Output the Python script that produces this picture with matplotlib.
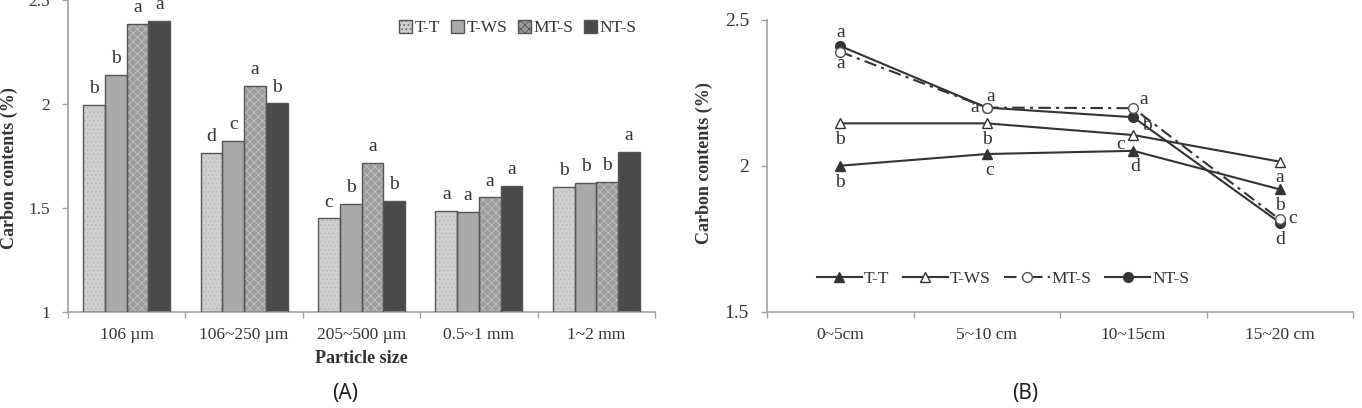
import matplotlib
matplotlib.use("Agg")
import matplotlib.pyplot as plt
from matplotlib.patches import Patch
import numpy as np

plt.rcParams['hatch.linewidth'] = 0.6

# ---------------- data ----------------
sizes = ["106 \u00b5m", "106~250 \u00b5m", "205~500 \u00b5m", "0.5~1 mm", "1~2 mm"]
treatments = ["T-T", "T-WS", "MT-S", "NT-S"]
a_TT = [1.995, 1.763, 1.45, 1.487, 1.60]
a_TWS = [2.14, 1.822, 1.52, 1.482, 1.622]
a_MTS = [2.385, 2.087, 1.715, 1.551, 1.625]
a_NTS = [2.40, 2.003, 1.535, 1.606, 1.77]
a_letters_TT = ["b", "d", "c", "a", "b"]
a_letters_TWS = ["b", "c", "b", "a", "b"]
a_letters_MTS = ["a", "a", "a", "a", "b"]
a_letters_NTS = ["a", "b", "b", "a", "a"]

depths = ["0~5cm", "5~10 cm", "10~15cm", "15~20 cm"]
b_TT = [2.001, 2.041, 2.052, 1.92]
b_TWS = [2.146, 2.146, 2.106, 2.015]
b_MTS = [2.391, 2.20, 2.198, 1.817]
b_NTS = [2.411, 2.20, 2.167, 1.806]
b_letters_TT = ["b", "c", "d", "b"]
b_letters_TWS = ["b", "b", "c", "a"]
b_letters_MTS = ["a", "a", "a", "c"]
b_letters_NTS = ["a", "a", "b", "d"]

# ---------------- figure ----------------
W, H = 1362, 408
fig = plt.figure(figsize=(W / 100, H / 100), dpi=100)
serif = "Liberation Serif"
txt = "#333333"
axc = "#a0a0a0"

def px_axes(x0, y0, x1, y1):
    return fig.add_axes([x0 / W, 1 - y1 / H, (x1 - x0) / W, (y1 - y0) / H])

def style_axes(ax):
    for s in ["top", "right"]:
        ax.spines[s].set_visible(False)
    for s in ["left", "bottom"]:
        ax.spines[s].set_color(axc)
        ax.spines[s].set_linewidth(1.2)
    ax.tick_params(axis="both", which="major", color=axc, length=4, width=1.0,
                   labelcolor=txt, labelsize=12.5)
    ax.tick_params(axis="y", pad=9)
    ax.tick_params(axis="x", which="major", labelbottom=False)
    ax.tick_params(axis="x", which="minor", length=0, pad=11, labelcolor=txt)
    for lab in ax.get_yticklabels():
        lab.set_fontfamily(serif)

# ---------------- panel A ----------------
axA = px_axes(68, 0, 655, 312)
n = len(sizes)
x = np.arange(n)
bw = 0.185
offs = np.array([-1.5, -0.5, 0.5, 1.5]) * bw
vals = [a_TT, a_TWS, a_MTS, a_NTS]
letters = [a_letters_TT, a_letters_TWS, a_letters_MTS, a_letters_NTS]
fills = ["#cfcfcf", "#aaaaaa", "#9c9c9c", "#4a4a4a"]
hatches = ["....", None, "xxxx", None]
hcols = ["#b8b8b8", None, "#c4c4c4", None]
for k in range(4):
    if hatches[k]:
        axA.bar(x + offs[k], np.array(vals[k]) - 1, bw, bottom=1, color=fills[k],
                edgecolor=hcols[k], linewidth=0, hatch=hatches[k], zorder=2)
    else:
        axA.bar(x + offs[k], np.array(vals[k]) - 1, bw, bottom=1, color=fills[k],
                linewidth=0, zorder=2)
    axA.bar(x + offs[k], np.array(vals[k]) - 1, bw, bottom=1, fill=False,
            edgecolor="#555555", linewidth=1.0, zorder=3)
    for i in range(n):
        axA.annotate(letters[k][i], (x[i] + offs[k], vals[k][i]),
                     xytext=(0, 8.5), textcoords="offset points", ha="center",
                     va="baseline", fontfamily=serif, fontsize=14, color=txt,
                     annotation_clip=False)
axA.set_xlim(-0.5, n - 0.5)
axA.set_ylim(1, 2.5)
axA.set_yticks([1, 1.5, 2, 2.5])
axA.set_yticklabels(["1", "1.5", "2", "2.5"])
axA.set_xticks(np.arange(n + 1) - 0.5)
axA.set_xticks(x, minor=True)
axA.set_xticklabels(sizes, minor=True, fontfamily=serif, fontsize=12.5)
style_axes(axA)
axA.set_ylabel("Carbon contents (%)", fontfamily=serif, fontweight="bold",
               fontsize=13, color=txt)
axA.yaxis.set_label_coords((18 - 68) / 587, (312 - 168) / 312)
axA.set_xlabel("Particle size", fontfamily=serif, fontweight="bold",
               fontsize=13, color=txt, labelpad=5)
handlesA = [Patch(facecolor=fills[k], edgecolor="#555555", linewidth=1.0,
                  hatch=hatches[k]) for k in range(4)]
axA.legend(handlesA, treatments, ncol=4, loc="center right",
           bbox_to_anchor=(0.995, 0.91), frameon=False, handlelength=0.75,
           handleheight=0.75, handletextpad=0.15, columnspacing=0.6,
           prop={"family": serif, "size": 12.5}, labelcolor=txt)

# ---------------- panel B ----------------
axB = px_axes(767, 20, 1353, 312)
m = len(depths)
xb = np.arange(m)
lc = "#333333"
axB.plot(xb, b_TT, color=lc, lw=1.5, marker="^", ms=7, mfc=lc, mec=lc, label="T-T", zorder=3)
axB.plot(xb, b_TWS, color=lc, lw=1.5, marker="^", ms=7, mfc="white", mec=lc, label="T-WS", zorder=3)
axB.plot(xb, b_MTS, color=lc, lw=1.5, ls=(0, (6, 2.5, 1.5, 2.5)), marker="o", ms=7,
         mfc="white", mec="#555555", label="MT-S", zorder=4)
axB.plot(xb, b_NTS, color=lc, lw=1.5, marker="o", ms=7, mfc=lc, mec=lc, label="NT-S", zorder=3)

# letter offsets in pixels (dx, dy), dy positive = up
off_TT = [(0, -17), (3, -16), (2, -16), (0, -16)]
off_TWS = [(0, -16), (0, -16), (-13, -9), (0, -16)]
off_MTS = [(0, -12), (-12, 0), (10, 9), (13, 1)]
off_NTS = [(0, 13), (4, 11), (14, -8), (0, -17)]
b_vals = [b_TT, b_TWS, b_MTS, b_NTS]
b_lets = [b_letters_TT, b_letters_TWS, b_letters_MTS, b_letters_NTS]
b_offs = [off_TT, off_TWS, off_MTS, off_NTS]
for k in range(4):
    for i in range(m):
        dx, dy = b_offs[k][i]
        axB.annotate(b_lets[k][i], (xb[i], b_vals[k][i]),
                     xytext=(dx * 0.72, dy * 0.72), textcoords="offset points",
                     ha="center", va="center", fontfamily=serif, fontsize=14,
                     color=txt, zorder=5)
axB.set_xlim(-0.5, m - 0.5)
axB.set_ylim(1.5, 2.5)
axB.set_yticks([1.5, 2, 2.5])
axB.set_yticklabels(["1.5", "2", "2.5"])
axB.set_xticks(np.arange(m + 1) - 0.5)
axB.set_xticks(xb, minor=True)
axB.set_xticklabels(depths, minor=True, fontfamily=serif, fontsize=12.5)
style_axes(axB)
axB.tick_params(axis="y", labelsize=14)
axB.set_ylabel("Carbon contents (%)", fontfamily=serif, fontweight="bold",
               fontsize=13, color=txt)
axB.yaxis.set_label_coords((713 - 767) / 586, 0.51)
axB.legend(ncol=4, loc="center left", bbox_to_anchor=(0.058, 0.113), frameon=False,
           handlelength=2.6, handletextpad=0.1, columnspacing=0.8,
           prop={"family": serif, "size": 12.5}, labelcolor=txt)

# panel captions
fig.text(345 / W, 1 - 393 / H, "(A)", ha="center", va="center",
         fontfamily="Noto Sans", fontsize=15, color="#222222")
fig.text(1025 / W, 1 - 393 / H, "(B)", ha="center", va="center",
         fontfamily="Noto Sans", fontsize=15, color="#222222")

fig.savefig("out.png", dpi=100, facecolor="white")
